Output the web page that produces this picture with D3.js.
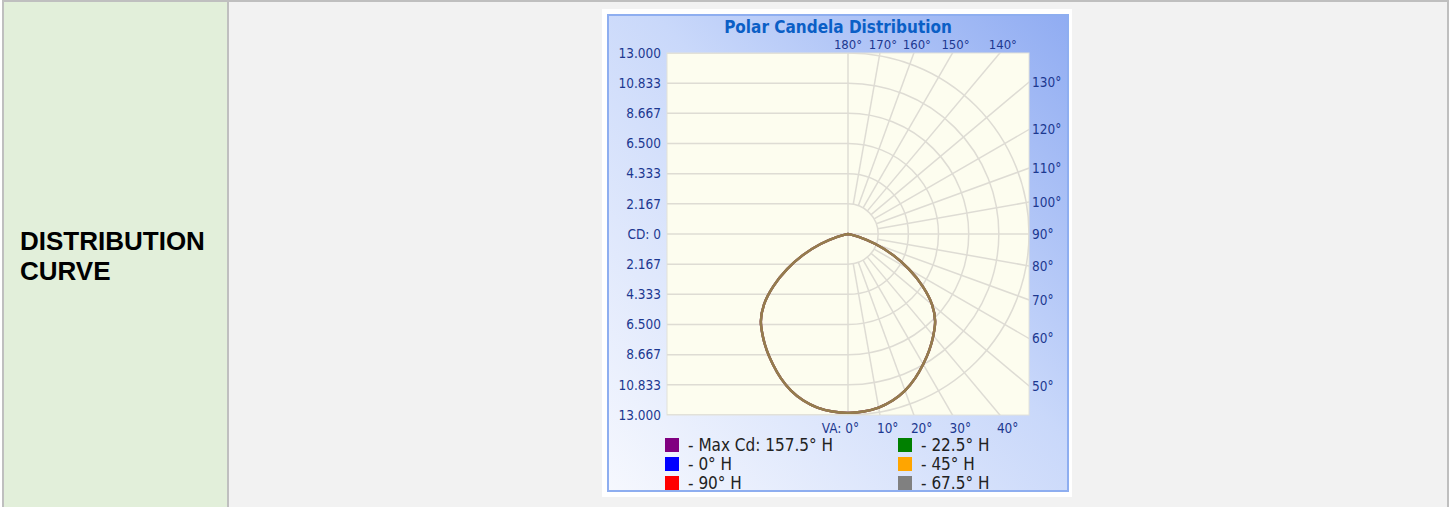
<!DOCTYPE html>
<html>
<head>
<meta charset="utf-8">
<script src="https://d3js.org/d3.v7.min.js"></script>
<style>
  body { margin: 0; background: #ffffff; }
  svg { display: block; }
</style>
</head>
<body>
<svg id="chart"></svg>
<script>
  // vertical angles (deg) and candela (same for every H plane)
  var vaAngles = [0, 5, 10, 15, 20, 25, 30, 35, 40, 45, 50, 55, 60, 65, 70, 75, 80, 85, 90];
  var candela  = [12.85, 12.8, 12.66, 12.38, 11.97, 11.42, 10.8, 10.18, 9.53, 8.85, 7.88, 6.55, 5.05, 3.55, 2.1, 0.8, 0.15, 0, 0];

  var seriesNames  = ["Max Cd: 157.5° H", "0° H", "90° H", "22.5° H", "45° H", "67.5° H"];
  var seriesColors = ["#800080", "#0000ff", "#ff0000", "#008000", "#ffa500", "#808080"];

  var maxCd = 13;
  var cdTicks = [-13, -10.833, -8.667, -6.5, -4.333, -2.167, 0, 2.167, 4.333, 6.5, 8.667, 10.833, 13];
  var topAngles = [180, 170, 160, 150, 140];
  var rightAngles = [130, 120, 110, 100, 90, 80, 70, 60, 50];
  var bottomAngles = [10, 20, 30, 40];

  var W = 1449, H = 507;
  var svg = d3.select("#chart").attr("width", W).attr("height", H);

  // ---- table cells ----
  svg.append("rect").attr("x", 2).attr("y", 0).attr("width", W - 2).attr("height", H).attr("fill", "#bfbfbf");
  svg.append("rect").attr("x", 4).attr("y", 2).attr("width", 223).attr("height", H).attr("fill", "#e2efda");
  svg.append("rect").attr("x", 229).attr("y", 2).attr("width", 1218).attr("height", H).attr("fill", "#f2f2f2");

  svg.append("text").attr("x", 20).attr("y", 250)
    .style("font-family", "Liberation Sans, Arial, sans-serif").style("font-weight", "bold")
    .style("font-size", "26px").attr("fill", "#000")
    .text("DISTRIBUTION");
  svg.append("text").attr("x", 20).attr("y", 280)
    .style("font-family", "Liberation Sans, Arial, sans-serif").style("font-weight", "bold")
    .style("font-size", "26px").attr("fill", "#000")
    .text("CURVE");

  // ---- chart panel ----
  var defs = svg.append("defs");
  var grad = defs.append("linearGradient").attr("id", "panelGrad")
    .attr("x1", "0").attr("y1", "1").attr("x2", "1").attr("y2", "0");
  grad.append("stop").attr("offset", "0%").attr("stop-color", "#f6f8fe");
  grad.append("stop").attr("offset", "55%").attr("stop-color", "#c9d8fa");
  grad.append("stop").attr("offset", "100%").attr("stop-color", "#90acf2");

  svg.append("rect").attr("x", 602).attr("y", 9).attr("width", 470).attr("height", 488).attr("fill", "#fff");
  svg.append("rect").attr("x", 608).attr("y", 15).attr("width", 460).attr("height", 476)
    .attr("fill", "url(#panelGrad)").attr("stroke", "#8eaef0").attr("stroke-width", 2);

  var labelFont = "Tahoma, 'DejaVu Sans Condensed', 'DejaVu Sans', sans-serif";
  var labelColor = "#1c3890";

  svg.append("text").attr("x", 838).attr("y", 33).attr("text-anchor", "middle")
    .style("font-family", labelFont).style("font-weight", "bold").style("font-size", "17px")
    .attr("fill", "#0b5fc6").text("Polar Candela Distribution");

  // ---- plot geometry ----
  var cx = 848, cy = 234, R = 181;
  var r = d3.scaleLinear().domain([0, maxCd]).range([0, R]);
  var y = d3.scaleLinear().domain([-maxCd, maxCd]).range([cy + R, cy - R]);
  var step = maxCd / 6;

  defs.append("clipPath").attr("id", "plotClip").append("rect")
    .attr("x", cx - R).attr("y", cy - R).attr("width", 2 * R).attr("height", 2 * R);

  svg.append("rect").attr("x", cx - R).attr("y", cy - R).attr("width", 2 * R).attr("height", 2 * R)
    .attr("fill", "#fdfdef").attr("stroke", "#e2e2da").attr("stroke-width", 1);

  var grid = svg.append("g").attr("clip-path", "url(#plotClip)")
    .attr("stroke", "#dedcd4").attr("stroke-width", 1.5).attr("fill", "none");

  // horizontal lines on the left half
  grid.selectAll("line.h").data(cdTicks.filter(function(d) { return d !== 0; }))
    .enter().append("line")
    .attr("x1", cx - R).attr("x2", cx)
    .attr("y1", function(d) { return y(d); }).attr("y2", function(d) { return y(d); });
  grid.append("line").attr("x1", cx - R).attr("x2", cx + R).attr("y1", y(0)).attr("y2", y(0));
  grid.append("line").attr("x1", cx).attr("x2", cx).attr("y1", cy - R).attr("y2", cy + R);

  // half rings on the right
  d3.range(1, 7).forEach(function(k) {
    var p = d3.path();
    p.arc(cx, cy, r(k * step), -Math.PI / 2, Math.PI / 2);
    grid.append("path").attr("d", p.toString());
  });

  // spokes every 10 deg of vertical angle
  var spokes = d3.range(10, 180, 10).filter(function(d) { return d !== 90; });
  grid.selectAll("line.s").data(spokes).enter().append("line")
    .attr("x1", function(d) { return cx + r(step) * Math.sin(d * Math.PI / 180); })
    .attr("y1", function(d) { return cy + r(step) * Math.cos(d * Math.PI / 180); })
    .attr("x2", function(d) { return cx + 3 * R * Math.sin(d * Math.PI / 180); })
    .attr("y2", function(d) { return cy + 3 * R * Math.cos(d * Math.PI / 180); });

  // ---- axis labels ----
  var lab = svg.append("g").style("font-family", labelFont).style("font-size", "13.5px")
    .attr("fill", labelColor);

  lab.selectAll("text.cd").data(cdTicks).enter().append("text")
    .attr("x", cx - R - 6).attr("y", function(d) { return y(d); }).attr("dy", "0.35em")
    .attr("text-anchor", "end")
    .text(function(d) { return d === 0 ? "CD: 0" : d3.format(".3f")(Math.abs(d)); });

  lab.selectAll("text.top").data(topAngles).enter().append("text")
    .attr("x", function(d) { return cx + R * Math.tan((180 - d) * Math.PI / 180) + (d === 180 ? 0 : 3); })
    .attr("y", cy - R - 4).attr("text-anchor", "middle")
    .style("font-size", "13px")
    .text(function(d) { return d + "°"; });

  lab.selectAll("text.right").data(rightAngles).enter().append("text")
    .attr("x", cx + R + 3)
    .attr("y", function(d) { return cy + R / Math.tan(d * Math.PI / 180); }).attr("dy", "0.35em")
    .text(function(d) { return d + "°"; });

  lab.append("text").attr("x", cx + 11).attr("y", cy + R + 18).attr("text-anchor", "end").text("VA: 0°");
  lab.selectAll("text.bottom").data(bottomAngles).enter().append("text")
    .attr("x", function(d) { return cx + R * Math.tan(d * Math.PI / 180) - 3; })
    .attr("y", cy + R + 18)
    .text(function(d) { return d + "°"; });

  // ---- curves: left half mirrors the right half ----
  var pts = [];
  for (var i = vaAngles.length - 1; i >= 0; i--) pts.push([Math.PI + vaAngles[i] * Math.PI / 180, candela[i]]);
  for (var j = 1; j < vaAngles.length; j++) pts.push([Math.PI - vaAngles[j] * Math.PI / 180, candela[j]]);

  var line = d3.lineRadial()
    .angle(function(d) { return d[0]; })
    .radius(function(d) { return r(d[1]); })
    .curve(d3.curveCatmullRom);

  var curves = svg.append("g").attr("transform", "translate(" + cx + "," + cy + ")");
  curves.selectAll("path").data(seriesColors).enter().append("path")
    .attr("d", line(pts))
    .attr("fill", "none")
    .attr("stroke", function(d) { return d; })
    .attr("stroke-width", 2.4)
    .attr("stroke-opacity", 0.5);

  // ---- legend ----
  var legend = svg.append("g").style("font-family", labelFont).style("font-size", "17px");
  var leg = legend.selectAll("g").data(seriesNames).enter().append("g")
    .attr("transform", function(d, i) {
      var col = Math.floor(i / 3), row = i % 3;
      return "translate(" + (665 + col * 233) + "," + (438 + row * 19) + ")";
    });
  leg.append("rect").attr("width", 14).attr("height", 14)
    .attr("fill", function(d, i) { return seriesColors[i]; });
  leg.append("text").attr("x", 23).attr("y", 13).attr("fill", "#222")
    .text(function(d) { return "- " + d; });
</script>
</body>
</html>
